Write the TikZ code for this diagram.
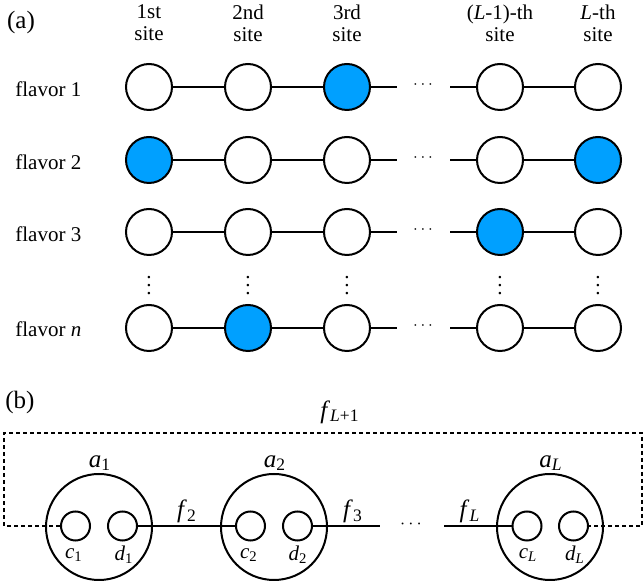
\documentclass[tikz,border=0pt]{standalone}
\usepackage{fontspec}
\setmainfont{Liberation Serif}
\definecolor{occblue}{RGB}{0,160,255}
\begin{document}
\begin{tikzpicture}[x=0.5pt,y=-0.5pt,
        site/.style={circle,draw,line width=1pt,minimum size=23pt,inner sep=0pt,fill=white},
        occ/.style={site,fill=occblue},
        bond/.style={line width=0.8pt},
        txt/.style={font=\fontsize{10.5}{11}\selectfont,align=center,inner sep=0pt},
        gap/.style={font=\fontsize{8.5}{9}\selectfont,inner sep=0pt},
        mtxt/.style={font=\fontsize{12.5}{14}\selectfont,inner sep=0pt},
        part/.style={font=\fontsize{12.5}{14}\selectfont,inner sep=0pt},
        mode/.style={circle,draw,line width=1pt,minimum size=53pt,inner sep=0pt},
        orb/.style={circle,draw,line width=1pt,minimum size=14.5pt,inner sep=0pt},
        wrap/.style={line width=0.8pt,dash pattern=on 2pt off 1.5pt}]

        \useasboundingbox (0,0) rectangle (644,587);

        % (a) flavors on the sites
        \node[part] (pa) at (21,22) {(a)};
        \node[txt] (hd1) at (149,23) {1st\\site};
        \node[txt] (hd2) at (248,23) {2nd\\site};
        \node[txt] (hd3) at (347,23) {3rd\\site};
        \node[txt] (hd4) at (500,23) {(\textit{L}-1)-th\\site};
        \node[txt] (hd5) at (598,23) {\textit{L}-th\\site};

        \node[txt,anchor=west] (fl1) at (15,89) {flavor 1};
        \node[txt,anchor=west] (fl2) at (15,162) {flavor 2};
        \node[txt,anchor=west] (fl3) at (15,234) {flavor 3};
        \node[txt,anchor=west] (fln) at (15,329) {flavor \textit{n}};

        \node[site] (s11) at (149,87) {}; \node[site] (s12) at (248,87) {}; \node[occ] (s13) at (347,87) {};
        \node[site] (s14) at (500,87) {}; \node[site] (s15) at (598,87) {};
        \node[occ] (s21) at (149,160) {}; \node[site] (s22) at (248,160) {}; \node[site] (s23) at (347,160) {};
        \node[site] (s24) at (500,160) {}; \node[occ] (s25) at (598,160) {};
        \node[site] (s31) at (149,232) {}; \node[site] (s32) at (248,232) {}; \node[site] (s33) at (347,232) {};
        \node[occ] (s34) at (500,232) {}; \node[site] (s35) at (598,232) {};
        \node[site] (sn1) at (149,328) {}; \node[occ] (sn2) at (248,328) {}; \node[site] (sn3) at (347,328) {};
        \node[site] (sn4) at (500,328) {}; \node[site] (sn5) at (598,328) {};

        \coordinate (e1) at (397,87);  \coordinate (b1) at (450,87);
        \coordinate (e2) at (397,160); \coordinate (b2) at (450,160);
        \coordinate (e3) at (397,232); \coordinate (b3) at (450,232);
        \coordinate (en) at (397,328); \coordinate (bn) at (450,328);

        \draw[bond] (s11) -- (s12) -- (s13) -- (e1); \draw[bond] (b1) -- (s14) -- (s15);
        \draw[bond] (s21) -- (s22) -- (s23) -- (e2); \draw[bond] (b2) -- (s24) -- (s25);
        \draw[bond] (s31) -- (s32) -- (s33) -- (e3); \draw[bond] (b3) -- (s34) -- (s35);
        \draw[bond] (sn1) -- (sn2) -- (sn3) -- (en); \draw[bond] (bn) -- (sn4) -- (sn5);

        \node[gap] (hd1x) at (423,85) {$\cdots$};
        \node[gap] (hd2x) at (423,158) {$\cdots$};
        \node[gap] (hd3x) at (423,230) {$\cdots$};
        \node[gap] (hdnx) at (423,326) {$\cdots$};

        \node[txt] (vd1) at (149,280) {$\vdots$};
        \node[txt] (vd2) at (248,280) {$\vdots$};
        \node[txt] (vd3) at (347,280) {$\vdots$};
        \node[txt] (vd4) at (500,280) {$\vdots$};
        \node[txt] (vd5) at (598,280) {$\vdots$};

        % (b) fermion modes
        \node[part] (pb) at (20,402) {(b)};

        \node[mode] (A1) at (99,527) {};
        \node[mode] (A2) at (274,527) {};
        \node[mode] (AL) at (550,527) {};
        \node[orb] (c1) at (75.5,526) {}; \node[orb] (d1) at (122.5,526) {};
        \node[orb] (c2) at (250.5,526) {}; \node[orb] (d2) at (297.5,526) {};
        \node[orb] (cL) at (527,526) {}; \node[orb] (dL) at (573.5,526) {};

        \coordinate (lb) at (4,526); \coordinate (lt) at (4,433);
        \coordinate (rt) at (642,433); \coordinate (rb) at (642,526);
        \coordinate (e6) at (380,526); \coordinate (b6) at (444,526);

        \draw[wrap] (c1) -- (lb) -- (lt) -- (rt) -- (rb) -- (dL);
        \draw[line width=1pt] (d1) -- (c2);
        \draw[line width=1pt] (d2) -- (e6);
        \draw[line width=1pt] (b6) -- (cL);

        \node[mtxt] (la1) at (100,463) {\textit{a}\textsubscript{1}};
        \node[mtxt] (la2) at (275,463) {\textit{a}\textsubscript{2}};
        \node[mtxt] (laL) at (551,463) {\textit{a}\textsubscript{\textit{L}}};
        \node[txt] (lc1) at (74,555) {\textit{c}\textsubscript{1}};
        \node[txt] (ld1) at (124,555) {\textit{d}\textsubscript{1}};
        \node[txt] (lc2) at (249,555) {\textit{c}\textsubscript{2}};
        \node[txt] (ld2) at (298,555) {\textit{d}\textsubscript{2}};
        \node[txt] (lcL) at (528,555) {\textit{c}\textsubscript{\textit{L}}};
        \node[txt] (ldL) at (575,555) {\textit{d}\textsubscript{\textit{L}}};
        \node[mtxt,anchor=base] (lf2) at (187,518) {\textit{f}\textsubscript{2}};
        \node[mtxt,anchor=base] (lf3) at (353,518) {\textit{f}\textsubscript{3}};
        \node[mtxt,anchor=base] (lfL) at (470,518) {\textit{f}\textsubscript{\textit{L}}};
        \node[mtxt] (lfT) at (340,412) {\textit{f}\textsubscript{\textit{L}+1}};
        \node[font=\fontsize{9.5}{11}\selectfont,inner sep=0pt] (dts) at (411,524) {$\cdots$};
\end{tikzpicture}
\end{document}
